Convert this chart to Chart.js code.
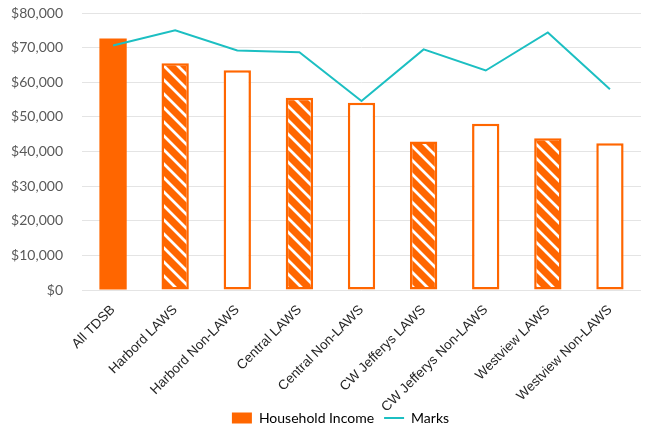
<!DOCTYPE html>
<html>
<head>
<meta charset="utf-8">
<script src="https://cdn.jsdelivr.net/npm/chart.js@4"></script>
<style>
  html, body { margin: 0; padding: 0; background: #fff; }
  #wrap { width: 645px; height: 430px; position: relative; }
</style>
</head>
<body>
<div id="wrap"><canvas id="chart"></canvas></div>
<script>
const categories = [
  'All TDSB',
  'Harbord LAWS',
  'Harbord Non-LAWS',
  'Central LAWS',
  'Central Non-LAWS',
  'CW Jefferys LAWS',
  'CW Jefferys Non-LAWS',
  'Westview LAWS',
  'Westview Non-LAWS'
];
const householdIncome = [72600, 65500, 63500, 55500, 54100, 42900, 48000, 43800, 42400];
const marks = [70600, 75000, 69200, 68700, 54600, 69500, 63400, 74400, 58000];
const yTicks = [0, 10000, 20000, 30000, 40000, 50000, 60000, 70000, 80000];

const orange = '#ff6600';
const teal = '#1cbfc2';

function stripes() {
  const s = 14;
  const c = document.createElement('canvas');
  c.width = s;
  c.height = s;
  const g = c.getContext('2d');
  g.fillStyle = orange;
  g.fillRect(0, 0, s, s);
  g.strokeStyle = '#fff';
  g.lineWidth = 2.8;
  g.beginPath();
  g.moveTo(-2, -2);
  g.lineTo(s + 2, s + 2);
  g.moveTo(s - 2, -2);
  g.lineTo(s + 2, 2);
  g.moveTo(-2, s - 2);
  g.lineTo(2, s + 2);
  g.stroke();
  return g.createPattern(c, 'repeat');
}

const hatch = stripes();

function barFill(name) {
  if (name.includes('Non-LAWS')) return '#ffffff';
  if (name.includes('LAWS')) return hatch;
  return orange;
}

// nudge the legend so it sits a bit right of the canvas centre, like the original
const legendShift = {
  id: 'legendShift',
  afterLayout(chart) {
    if (chart.legend) chart.legend.left += 40;
  }
};

new Chart(document.getElementById('chart').getContext('2d'), {
  data: {
    labels: categories,
    datasets: [
      {
        type: 'line',
        label: 'Marks',
        data: marks,
        borderColor: teal,
        backgroundColor: teal,
        borderWidth: 2,
        pointRadius: 0,
        tension: 0,
        order: 0
      },
      {
        type: 'bar',
        label: 'Household Income',
        data: householdIncome,
        backgroundColor: categories.map(barFill),
        borderColor: orange,
        borderWidth: categories.map((c) => (c.includes('LAWS') ? 2.5 : 0)),
        borderSkipped: false,
        barPercentage: 0.44,
        categoryPercentage: 1,
        order: 1
      }
    ]
  },
  plugins: [legendShift],
  options: {
    responsive: true,
    maintainAspectRatio: false,
    animation: false,
    layout: { padding: { left: 0, right: 4, top: 13, bottom: -5 } },
    plugins: {
      tooltip: { enabled: false },
      legend: {
        position: 'bottom',
        labels: {
          usePointStyle: true,
          pointStyleWidth: 20,
          boxHeight: 11,
          padding: 10,
          color: '#595959',
          font: { family: 'Lato', size: 14 },
          generateLabels: () => [
            { text: 'Household Income', pointStyle: 'rect', fillStyle: orange, strokeStyle: orange, lineWidth: 0, datasetIndex: 1 },
            { text: 'Marks', pointStyle: 'line', fillStyle: teal, strokeStyle: teal, lineWidth: 2, datasetIndex: 0 }
          ]
        }
      }
    },
    scales: {
      x: {
        grid: { display: false },
        border: { display: false },
        afterFit: (axis) => {
          axis.height = 111;
          axis.paddingLeft = 0;
          axis.paddingRight = 0;
          // long rotated labels run a little past the axis box; don't clip them
          axis._computeLabelArea = () => undefined;
        },
        ticks: {
          autoSkip: false,
          maxRotation: 45,
          minRotation: 45,
          padding: 4,
          color: '#262626',
          font: { family: 'Liberation Sans', size: 13.5 }
        }
      },
      y: {
        min: 0,
        max: 80000,
        afterBuildTicks: (axis) => {
          axis.ticks = yTicks.map((v) => ({ value: v }));
        },
        afterFit: (axis) => {
          axis.width = 82;
          axis.paddingTop = 0;
          axis.paddingBottom = 0;
        },
        grid: { color: '#e4e4e4', lineWidth: 1, drawTicks: false },
        border: { display: false },
        ticks: {
          padding: 19,
          color: '#595959',
          font: { family: 'Lato', size: 14 },
          callback: (v) => '$' + Number(v).toLocaleString('en-US')
        }
      }
    }
  }
});
</script>
</body>
</html>
